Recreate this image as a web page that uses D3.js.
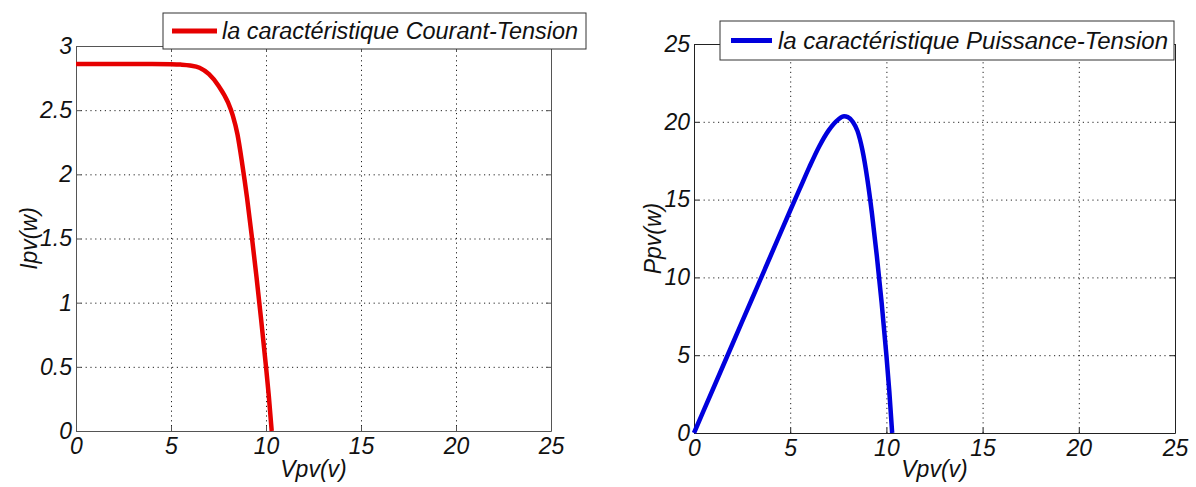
<!DOCTYPE html>
<html><head><meta charset="utf-8">
<script src="https://cdn.jsdelivr.net/npm/d3@7"></script>
<style>
html,body{margin:0;padding:0;background:#fff;}
svg text{font-family:"Liberation Sans",Arial,sans-serif;font-style:italic;fill:#111;}
</style></head>
<body>
<svg id="chart" width="1196" height="487"></svg>
<script>
// ---- data ----
const voltageIV = [0, 1, 2, 3, 4, 5, 5.5, 6, 6.5, 7, 7.5, 8, 8.25, 8.5, 8.75, 9, 9.25, 9.5, 9.75, 10, 10.15, 10.3];
const currentIV = [2.86, 2.86, 2.86, 2.86, 2.86, 2.858, 2.855, 2.848, 2.83, 2.78, 2.69, 2.56, 2.46, 2.31, 2.08, 1.82, 1.52, 1.2, 0.86, 0.5, 0.27, 0];
const voltagePV = [0, 1, 2, 3, 4, 5, 5.5, 6, 6.5, 7, 7.5, 7.8, 8, 8.25, 8.5, 8.75, 9, 9.25, 9.5, 9.75, 10, 10.15, 10.3];
const powerPV   = [0, 2.86, 5.72, 8.58, 11.44, 14.3, 15.7, 17.1, 18.4, 19.45, 20.15, 20.35, 20.3, 20.0, 19.4, 18.2, 16.4, 14.1, 11.4, 8.4, 5.0, 2.7, 0];
const xTicks = [0, 5, 10, 15, 20, 25];
const yTicksIV = [0, 0.5, 1, 1.5, 2, 2.5, 3];
const yTicksPV = [0, 5, 10, 15, 20, 25];
const legendIV = "la caractéristique Courant-Tension";
const legendPV = "la caractéristique Puissance-Tension";
const xLabel = "Vpv(v)";
const yLabelIV = "Ipv(w)";
const yLabelPV = "Ppv(w)";

const svg = d3.select("#chart");
const FS = 23;

function panel(cfg) {
  const x = d3.scaleLinear().domain([0, 25]).range([cfg.x0, cfg.x1]);
  const y = d3.scaleLinear().domain(cfg.yDomain).range([cfg.yb, cfg.yt]);
  const g = svg.append("g");
  const fmt = d => String(d);

  // grid (dotted)
  const innerX = xTicks.slice(1, -1);
  const innerY = cfg.yTicks.slice(1, -1);
  g.append("g").attr("transform", `translate(0,${cfg.yb})`)
    .call(d3.axisBottom(x).tickValues(innerX).tickSize(-(cfg.yb - cfg.yt)).tickFormat(""))
    .call(s => s.select(".domain").remove())
    .call(s => s.selectAll("line").attr("stroke", "#222").attr("stroke-dasharray", "1.2,3.6"));
  g.append("g").attr("transform", `translate(${cfg.x0},0)`)
    .call(d3.axisLeft(y).tickValues(innerY).tickSize(-(cfg.x1 - cfg.x0)).tickFormat(""))
    .call(s => s.select(".domain").remove())
    .call(s => s.selectAll("line").attr("stroke", "#222").attr("stroke-dasharray", "1.2,3.6"));

  // axes with inward ticks
  const styleAx = s => {
    s.select(".domain").attr("stroke", cfg.axisColor);
    s.selectAll(".tick line").attr("stroke", cfg.axisColor);
    s.selectAll("text").attr("font-size", FS).attr("font-style", "italic")
      .attr("font-family", '"Liberation Sans", Arial, sans-serif').attr("fill", "#111");
  };
  g.append("g").attr("transform", `translate(0,${cfg.yb})`)
    .call(d3.axisBottom(x).tickValues(xTicks).tickSize(-5).tickSizeOuter(0).tickPadding(7).tickFormat(fmt))
    .call(styleAx);
  g.append("g").attr("transform", `translate(0,${cfg.yt})`)
    .call(d3.axisTop(x).tickValues(xTicks).tickSize(-5).tickSizeOuter(0).tickFormat(""))
    .call(styleAx);
  g.append("g").attr("transform", `translate(${cfg.x0},0)`)
    .call(d3.axisLeft(y).tickValues(cfg.yTicks).tickSize(-5).tickSizeOuter(0).tickPadding(4).tickFormat(fmt))
    .call(styleAx);
  g.append("g").attr("transform", `translate(${cfg.x1},0)`)
    .call(d3.axisRight(y).tickValues(cfg.yTicks).tickSize(-5).tickSizeOuter(0).tickFormat(""))
    .call(styleAx);

  // curve
  const pts = cfg.xs.map((v, i) => [v, cfg.ys[i]]);
  g.append("path").datum(pts)
    .attr("fill", "none").attr("stroke", cfg.color).attr("stroke-width", cfg.lw)
    .attr("stroke-linejoin", "round").attr("stroke-linecap", "butt")
    .attr("d", d3.line().x(d => x(d[0])).y(d => y(d[1])).curve(d3.curveMonotoneX));

  // labels
  g.append("text").attr("x", (cfg.x0 + cfg.x1) / 2).attr("y", 477)
    .attr("text-anchor", "middle").attr("font-size", FS).text(xLabel);
  g.append("text").attr("transform", `translate(${cfg.ylx},${(cfg.yt + cfg.yb) / 2}) rotate(-90)`)
    .attr("text-anchor", "middle").attr("font-size", FS).text(cfg.yLabel);

  // legend
  const L = cfg.legend;
  g.append("rect").attr("x", L.x).attr("y", L.y).attr("width", L.w).attr("height", L.h)
    .attr("fill", "#fff").attr("stroke", "#333").attr("stroke-width", 1);
  g.append("line").attr("x1", L.x + L.l0).attr("x2", L.x + L.l1)
    .attr("y1", L.y + L.h / 2).attr("y2", L.y + L.h / 2)
    .attr("stroke", cfg.color).attr("stroke-width", 5);
  g.append("text").attr("x", L.x + L.tx).attr("y", L.y + L.h / 2 + 8)
    .attr("font-size", FS).attr("textLength", L.tl).attr("lengthAdjust", "spacingAndGlyphs")
    .text(L.text);
}

panel({x0: 76, x1: 551, yt: 46, yb: 431, yDomain: [0, 3], yTicks: yTicksIV,
  xs: voltageIV, ys: currentIV, color: "#e60000", lw: 4.5, axisColor: "#555",
  ylx: 37, yLabel: yLabelIV,
  legend: {x: 163, y: 13, w: 423, h: 36, l0: 9, l1: 54, tx: 59, tl: 356, text: legendIV}});

panel({x0: 694, x1: 1175, yt: 44, yb: 433, yDomain: [0, 25], yTicks: yTicksPV,
  xs: voltagePV, ys: powerPV, color: "#0000dd", lw: 4.5, axisColor: "#222",
  ylx: 661, yLabel: yLabelPV,
  legend: {x: 720, y: 21, w: 454, h: 39, l0: 11, l1: 52, tx: 58, tl: 390, text: legendPV}});
</script>
</body></html>
